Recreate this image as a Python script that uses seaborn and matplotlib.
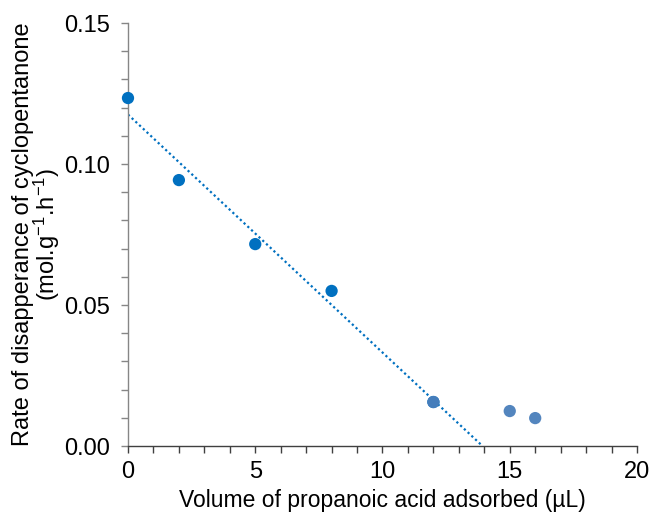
import numpy as np
import pandas as pd
import matplotlib
matplotlib.use("Agg")
import matplotlib.pyplot as plt
import seaborn as sns
from matplotlib.ticker import MultipleLocator

# Data
volume_fit = [0, 2, 5, 8, 12]
rate_fit = [0.1234, 0.0943, 0.0716, 0.0550, 0.0156]
volume_extra = [12, 15, 16]
rate_extra = [0.0156, 0.0124, 0.0099]

x_ticks = [0, 5, 10, 15, 20]
y_ticks = [0.00, 0.05, 0.10, 0.15]

sns.set_theme(style="white")
plt.rcParams['font.family'] = ['Liberation Sans', 'DejaVu Sans']
plt.rcParams['mathtext.fontset'] = 'custom'
plt.rcParams['mathtext.rm'] = 'Liberation Sans'
plt.rcParams['mathtext.it'] = 'Liberation Sans'

df_fit = pd.DataFrame({"x": volume_fit, "y": rate_fit})
df_extra = pd.DataFrame({"x": volume_extra, "y": rate_extra})

fig = plt.figure(figsize=(6.51, 5.17), dpi=100)
ax = fig.add_axes([0.1966, 0.1373, 0.7819, 0.8182])

sns.scatterplot(data=df_fit, x="x", y="y", ax=ax, color="#0070C0", s=78,
                edgecolor="none", zorder=3, clip_on=False)
sns.scatterplot(data=df_extra, x="x", y="y", ax=ax, color="#4A7EBB", s=78,
                edgecolor="none", alpha=0.95, zorder=4, clip_on=False)

# linear trendline fitted on first five points, drawn until y = 0
slope, intercept = np.polyfit(volume_fit, rate_fit, 1)
x_end = -intercept / slope
xs = np.array([0, x_end])
ax.plot(xs, slope * xs + intercept, linestyle=(0, (1, 1.3)), lw=1.6,
        color="#0070C0", zorder=2)

ax.set_xlim(0, 20)
ax.set_ylim(0, 0.15)
ax.set_xticks(x_ticks)
ax.set_yticks(y_ticks)
ax.set_xticklabels([str(v) for v in x_ticks])
ax.set_yticklabels([f"{v:.2f}" for v in y_ticks])
ax.xaxis.set_minor_locator(MultipleLocator(1))
ax.yaxis.set_minor_locator(MultipleLocator(0.01))

for s in ["top", "right"]:
    ax.spines[s].set_visible(False)
ax.spines["left"].set_color("#868686")
ax.spines["bottom"].set_color("#404040")
ax.spines["left"].set_linewidth(1.0)
ax.spines["bottom"].set_linewidth(1.0)

ax.tick_params(axis="y", which="both", direction="out", length=5, width=1,
               color="#868686", left=True, labelsize=17, labelcolor="#000000", pad=8)
ax.tick_params(axis="x", which="both", direction="out", length=5, width=1,
               color="#404040", bottom=True, labelsize=17, labelcolor="#000000", pad=6)

ax.set_xlabel("Volume of propanoic acid adsorbed (\u00b5L)", fontsize=16.5,
              color="#000000", labelpad=4)
ax.set_ylabel("Rate of disapperance of cyclopentanone\n(mol.g$^{-1}$.h$^{-1}$)",
              fontsize=17, color="#000000", labelpad=1.5, linespacing=0.92)

ax.set_facecolor("white")
fig.patch.set_facecolor("white")
fig.savefig("out.png", dpi=100)
